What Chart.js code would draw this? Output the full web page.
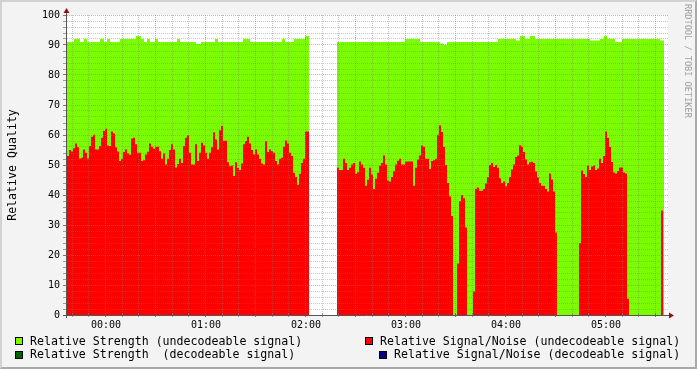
<!DOCTYPE html>
<html>
<head>
<meta charset="utf-8">
<script src="https://cdn.jsdelivr.net/npm/chart.js@4/dist/chart.umd.min.js"></script>
<style>
  html, body { margin: 0; padding: 0; background: #f3f3f3; }
  #wrap { position: relative; width: 697px; height: 369px; background: #f3f3f3; overflow: hidden; }
  #c { position: absolute; left: 0; top: 0; }
  #frame { position: absolute; left: 0; top: 0; width: 697px; height: 369px; box-sizing: border-box;
           border-style: solid; border-width: 2px; border-color: #d2d2d2 #a9a9a9 #a9a9a9 #d2d2d2; pointer-events: none; }
  .mono { font-family: "DejaVu Sans Mono", monospace; color: #000; white-space: pre; position: absolute; }
  .leg { font-size: 11.6px; line-height: 14px; }
  .sw { position: absolute; width: 8px; height: 8px; box-sizing: border-box; border: 1px solid #000; }
  #ytitle { font-size: 11.6px; line-height: 14px; left: 12px; top: 165px; transform: translate(-50%, -50%) rotate(-90deg); }
  #wm { font-size: 8.6px; color: #a0a0a0; writing-mode: vertical-rl; left: 683px; top: 4px; line-height: 10px; }
</style>
</head>
<body>
<div id="wrap">
  <canvas id="c" width="697" height="369"></canvas>
  <div id="ytitle" class="mono">Relative Quality</div>
  <div id="wm" class="mono">RRDTOOL / TOBI OETIKER</div>
  <div id="legend"></div>
  <div id="frame"></div>
</div>
<script>
// ---- data (time in minutes relative to 00:00) ----
const xMin = -23.4;
const xMax = 337.2;
const xTickValues = [0, 60, 120, 180, 240, 300];
const xTickLabels = ['00:00', '01:00', '02:00', '03:00', '04:00', '05:00'];
const yTickValues = [0, 10, 20, 30, 40, 50, 60, 70, 80, 90, 100];
const yTickLabels = ['0', '10', '20', '30', '40', '50', '60', '70', '80', '90', '100'];

const seriesNames = [
  'Relative Strength (undecodeable signal)',
  'Relative Strength  (decodeable signal)',
  'Relative Signal/Noise (undecodeable signal)',
  'Relative Signal/Noise (decodeable signal)'
];
const seriesColors = ['#7cfc00', '#006400', '#ff0000', '#000080'];

// Relative Signal/Noise (undecodeable): consecutive samples of 1.2 min starting at redStart
const redStart = -23.4;
const redStep = 1.2;
const redValues = [
  53, 55, 54.5, 55.6, 57.2, 55.9, 52.2, 52.4, 55.2, 54.1,
  52.2, 56.3, 59.4, 60.1, 55.2, 55.2, 56.3, 59.1, 61.3, 62.1,
  56.5, 56.3, 61.2, 60.5, 55.9, 54.5, 51.3, 52.1, 54.3, 55.2,
  53.8, 53.4, 58.8, 59.1, 56.9, 54.1, 54.1, 51.3, 51.6, 53.5,
  54.4, 57.2, 56.1, 55.4, 56.1, 56.1, 54.6, 52.1, 53.8, 50.2,
  52.1, 55, 56.9, 55.2, 49.2, 50.3, 52.1, 50.7, 56.3, 59.1,
  59.9, 54.1, 50.2, 50.2, 56.9, 51.3, 54.1, 57.4, 56.5, 54.1,
  52.1, 54.1, 55.9, 60.9, 58.5, 55.2, 61.6, 63.0, 58.1, 58.1,
  50.9, 49.6, 49.8, 46.3, 50.9, 49.0, 48.3, 50.5, 56.9, 58.0,
  59.4, 57.2, 55.0, 53.5, 55.2, 53.5, 52.1, 50.5, 50.2, 57.9,
  54.3, 55.2, 54.6, 54.1, 51.3, 50.2, 52.1, 52.4, 56.1, 58.2,
  57.2, 54.1, 53.0, 47.4, 46.0, 43.4, 47.1, 50.7, 52.1, 61.2,
  61.2, null, null, null, null, null, null, null, null, null,
  null, null, null, null, null, 49.1, 48.3, 48.3, 52.1, 50.7,
  48.3, 49.1, 50.2, 50.7, 47.1, 47.6, 51.2, 50.2, 49.1, 43.1,
  45.1, 49.1, 46.8, 42.0, 45.4, 47.4, 49.8, 50.7, 53.2, 50.2,
  44.8, 44.5, 46.0, 47.9, 50.2, 51.4, 52.1, 50.2, 50.2, 51.2,
  51.2, 51.2, 51.2, 43.1, 49.1, 51.8, 53.2, 56.5, 56.1, 52.1,
  52.1, 48.7, 51.3, 51.6, 52.1, 60.1, 63.2, 61, 56, 50,
  44, 39.5, 33, 0, 0, 17.2, 37.9, 40.0, 38.9, 29.2,
  0, 0, 0, 7.8, 42.1, 42.5, 41.4, 41.4, 42, 43.8,
  46, 50, 50.7, 49.3, 50.0, 49.1, 45.6, 44.0, 44.5, 42.9,
  44.0, 46.0, 48.5, 50.2, 52.7, 53.2, 56.6, 56.1, 54.3, 51.8,
  50.2, 50.9, 51.1, 50.7, 47.8, 45.8, 44.0, 43.1, 43.1, 42,
  41.2, 47.2, 45.2, 41.2, 27.5, 0, 0, 0, 0, 0,
  0, 0, 0, 0, 0, 0, 24, 48.2, 47, 46.0,
  49.8, 48.3, 49.5, 49.8, 48.3, 48.8, 52.1, 50.7, 53, 61.2,
  59, 56, 51, 47.5, 47.2, 48, 49.2, 49.2, 47.5, 47.2,
  5.4, 0, 0, 0, 0, 0, 0, 0, 0, 0,
  0, 0, 0, 0, 0, 0, 0, 34.8
];

// Relative Strength (undecodeable): value holds from greenTimes[i] to greenTimes[i+1]
const greenTimes = [
  -23.4, -19.2, -15.6, -13.2, -11.4, -3.6, -1.2, 0.6, 2.4, 8.4,
  18, 21, 22.8, 24.6, 26.4, 29.4, 31.2, 42.6, 44.4, 54,
  57, 65.4, 67.2, 82.2, 86.4, 105.6, 107.4, 112.8, 119.4, 121.8,
  138.6, 179.4, 188.4, 200.4, 202.8, 204.6, 235.2, 246, 248.4, 251.4,
  254.4, 257.4, 290.4, 296.4, 298.8, 300.6, 305.4, 309.6, 332.4, 334.8
];
const greenValues = [
  91, 92, 91, 92, 91, 92, 91, 92, 91, 92,
  93, 92, 91, 92, 91, 92, 91, 92, 91, 90.3,
  91, 92, 91, 92, 91, 92, 91, 92, 93, null,
  91, 92, 91, 90.5, 90, 91, 92, 91.5, 93, 92,
  93, 92, 91.5, 92, 93, 92, 91, 92, 91.5
];

// ---- build step-area points ----
function stepPoints(starts, ends, values) {
  const pts = [];
  values.forEach((v, i) => {
    if (v === null) pts.push({ x: starts[i], y: null });
    else { pts.push({ x: starts[i], y: v }); pts.push({ x: ends[i], y: v }); }
  });
  return pts;
}
const redStarts = redValues.map((_, i) => redStart + i * redStep);
const redEnds = redStarts.map(t => t + redStep);
const redPoints = stepPoints(redStarts, redEnds, redValues);
const greenPoints = stepPoints(greenTimes.slice(0, -1), greenTimes.slice(1), greenValues);

// ---- legend (HTML text) ----
const legendEl = document.getElementById('legend');
const legendPos = [
  { sx: 15, sy: 337, tx: 30, ty: 334 },
  { sx: 15, sy: 351, tx: 30, ty: 347 },
  { sx: 365, sy: 337, tx: 380, ty: 334 },
  { sx: 379, sy: 351, tx: 394, ty: 347 }
];
seriesNames.forEach((name, i) => {
  const p = legendPos[i];
  const sw = document.createElement('div');
  sw.className = 'sw';
  sw.style.left = p.sx + 'px'; sw.style.top = p.sy + 'px';
  sw.style.background = seriesColors[i];
  legendEl.appendChild(sw);
  const t = document.createElement('div');
  t.className = 'mono leg';
  t.style.left = p.tx + 'px'; t.style.top = p.ty + 'px';
  t.textContent = name;
  legendEl.appendChild(t);
});

// ---- rrd-style grid / axes plugin ----
const minorX = 10, majorX = 30, minorY = 2, majorY = 10;
const rrdPlugin = {
  id: 'rrd',
  beforeDraw(chart) {
    const { ctx, chartArea: a } = chart;
    ctx.save();
    ctx.fillStyle = '#ffffff';
    ctx.fillRect(a.left, a.top, a.right - a.left, a.bottom - a.top);
    ctx.restore();
  },
  afterDatasetsDraw(chart) {
    const { ctx, chartArea: a, scales } = chart;
    const xs = scales.x, ys = scales.y;
    ctx.save();
    ctx.lineWidth = 1;
    ctx.setLineDash([1, 1]);
    // vertical lines
    const t0 = Math.ceil(xMin / minorX) * minorX;
    for (let t = t0; t <= xMax; t += minorX) {
      const px = Math.floor(xs.getPixelForValue(t) - 0.5) + 0.5;
      const major = (((t % majorX) + majorX) % majorX) === 0;
      ctx.strokeStyle = major ? 'rgba(255,80,80,0.55)' : 'rgba(120,120,120,0.4)';
      ctx.beginPath(); ctx.moveTo(px, a.top); ctx.lineTo(px, a.bottom); ctx.stroke();
      ctx.save(); ctx.setLineDash([]);
      ctx.strokeStyle = major ? 'rgba(200,40,40,0.8)' : 'rgba(120,120,120,0.7)';
      ctx.beginPath(); ctx.moveTo(px, a.bottom - 2); ctx.lineTo(px, a.bottom + 2); ctx.stroke();
      ctx.restore();
    }
    // horizontal lines
    for (let v = minorY; v <= 100; v += minorY) {
      const py = Math.floor(ys.getPixelForValue(v)) + 0.5;
      const major = v % majorY === 0;
      ctx.strokeStyle = major ? 'rgba(255,80,80,0.55)' : 'rgba(120,120,120,0.4)';
      ctx.beginPath(); ctx.moveTo(a.left, py); ctx.lineTo(a.right, py); ctx.stroke();
      ctx.save(); ctx.setLineDash([]);
      ctx.strokeStyle = major ? 'rgba(200,40,40,0.8)' : 'rgba(120,120,120,0.7)';
      ctx.beginPath(); ctx.moveTo(a.left - 4, py); ctx.lineTo(a.left, py); ctx.stroke();
      ctx.restore();
    }
    ctx.setLineDash([]);
    // axes
    ctx.strokeStyle = '#555555';
    ctx.beginPath(); ctx.moveTo(a.left - 0.5, a.top - 3); ctx.lineTo(a.left - 0.5, a.bottom + 3); ctx.stroke();
    ctx.beginPath(); ctx.moveTo(a.left - 4, a.bottom + 0.5); ctx.lineTo(a.right + 2, a.bottom + 0.5); ctx.stroke();
    // arrows
    ctx.fillStyle = '#8b1414';
    ctx.beginPath();
    ctx.moveTo(a.left - 0.5, a.top - 7); ctx.lineTo(a.left - 3.5, a.top - 2); ctx.lineTo(a.left + 2.5, a.top - 2); ctx.closePath(); ctx.fill();
    ctx.beginPath();
    ctx.moveTo(a.right + 6, a.bottom + 0.5); ctx.lineTo(a.right + 1, a.bottom - 2.5); ctx.lineTo(a.right + 1, a.bottom + 3.5); ctx.closePath(); ctx.fill();
    ctx.restore();
  }
};

const monoFont = { family: 'DejaVu Sans Mono', size: 10 };

new Chart(document.getElementById('c'), {
  type: 'line',
  data: {
    datasets: [
      {
        label: seriesNames[2], data: redPoints, order: 1,
        backgroundColor: seriesColors[2], borderColor: 'rgba(0,0,0,0)', borderWidth: 0,
        fill: 'origin', pointRadius: 0, tension: 0, spanGaps: false
      },
      {
        label: seriesNames[0], data: greenPoints, order: 2,
        backgroundColor: seriesColors[0], borderColor: 'rgba(0,0,0,0)', borderWidth: 0,
        fill: 'origin', pointRadius: 0, tension: 0, spanGaps: false
      }
    ]
  },
  options: {
    responsive: false,
    animation: false,
    devicePixelRatio: 1,
    layout: { padding: { left: 0, top: 15, right: 29, bottom: 0 } },
    plugins: { legend: { display: false }, tooltip: { enabled: false } },
    scales: {
      x: {
        type: 'linear', min: xMin, max: xMax,
        grid: { display: false, drawTicks: false }, border: { display: false },
        afterBuildTicks: s => { s.ticks = xTickValues.map(v => ({ value: v })); },
        afterFit: s => { s.height = 54; },
        ticks: {
          autoSkip: false, maxRotation: 0, padding: 4, color: '#000', font: monoFont,
          callback: v => xTickLabels[xTickValues.indexOf(v)]
        }
      },
      y: {
        type: 'linear', min: 0, max: 100,
        grid: { display: false, drawTicks: false }, border: { display: false },
        afterBuildTicks: s => { s.ticks = yTickValues.map(v => ({ value: v })); },
        afterFit: s => { s.width = 67; },
        ticks: {
          padding: 7, color: '#000', font: monoFont,
          callback: v => yTickLabels[yTickValues.indexOf(v)]
        }
      }
    }
  },
  plugins: [rrdPlugin]
});
</script>
</body>
</html>
